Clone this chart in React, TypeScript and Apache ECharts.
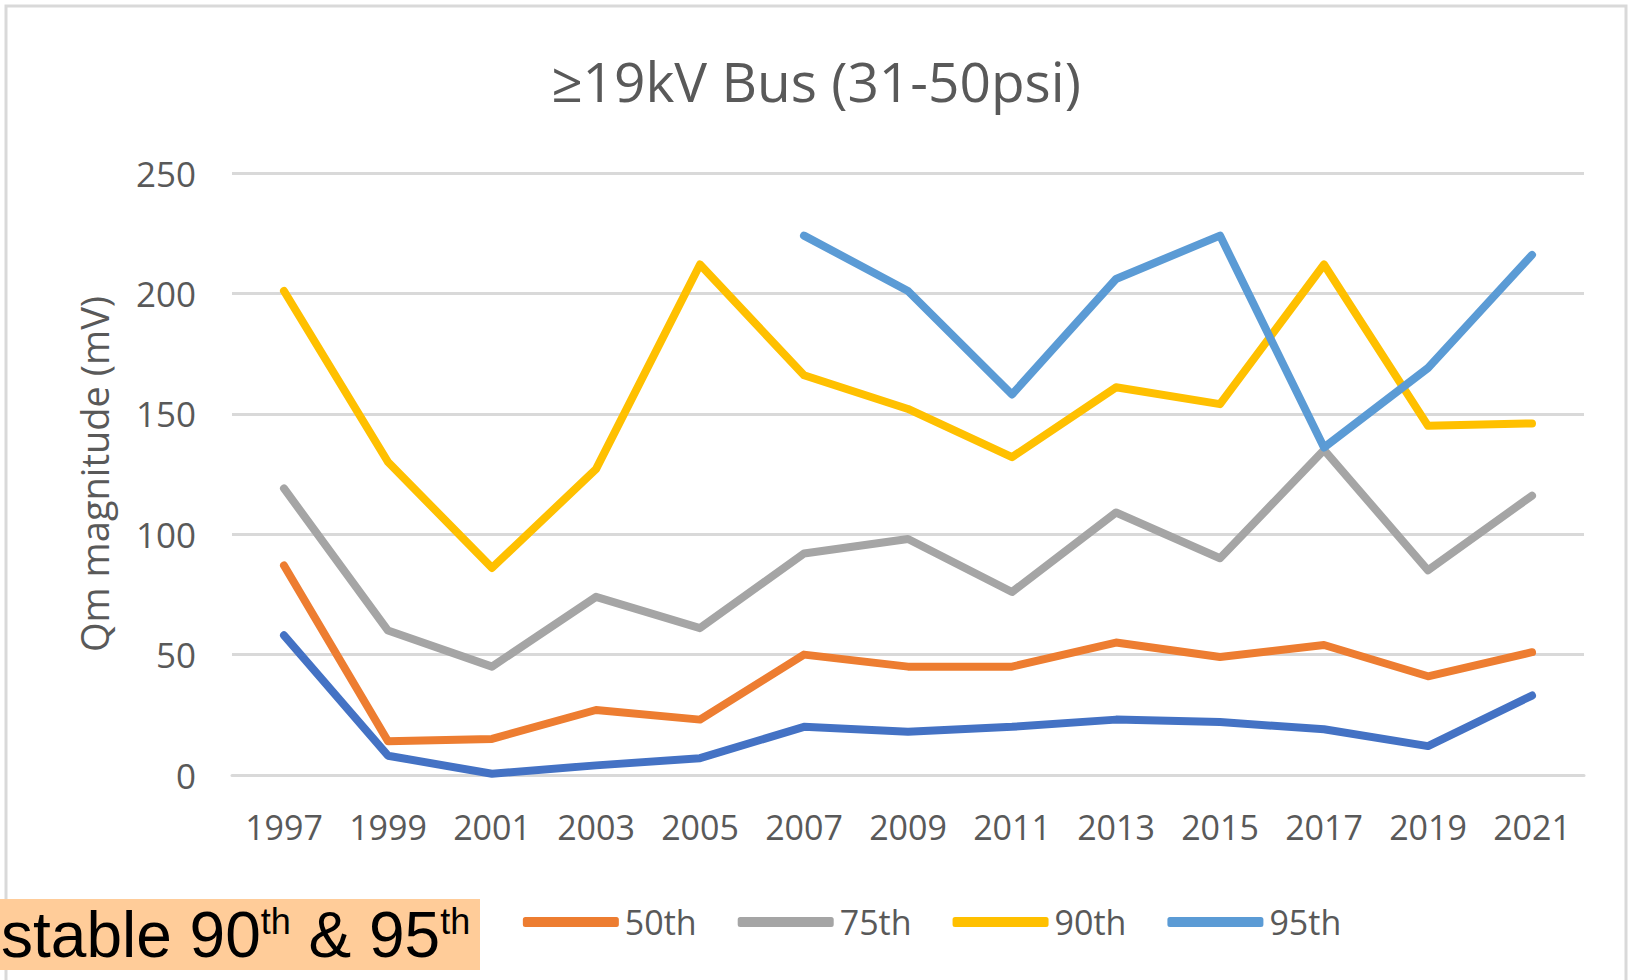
import React, { useEffect, useRef } from "react";
import * as echarts from "echarts";

const years = ["1997", "1999", "2001", "2003", "2005", "2007", "2009", "2011", "2013", "2015", "2017", "2019", "2021"];
const p25 = [58, 8, 0.5, 4, 7, 20, 18, 20, 23, 22, 19, 12, 33];
const p50 = [87, 14, 15, 27, 23, 50, 45, 45, 55, 49, 54, 41, 51];
const p75 = [119, 60, 45, 74, 61, 92, 98, 76, 109, 90, 135, 85, 116];
const p90 = [201, 130, 86, 127, 212, 166, 152, 132, 161, 154, 212, 145, 146];
const p95 = [null, null, null, null, null, 224, 201, 158, 206, 224, 136, 169, 216];
const yTicks = { min: 0, max: 250, interval: 50 };

const seriesDefs = [
  { name: "25th", data: p25, color: "#4472C4" },
  { name: "50th", data: p50, color: "#ED7D31" },
  { name: "75th", data: p75, color: "#A5A5A5" },
  { name: "90th", data: p90, color: "#FFC000" },
  { name: "95th", data: p95, color: "#5B9BD5" },
];

export default function App() {
  const ref = useRef<HTMLDivElement>(null);
  useEffect(() => {
    const chart = echarts.init(ref.current!, null, { renderer: "svg" });
    const font = "'Open Sans', 'Noto Sans', sans-serif";
    const arial = "'Liberation Sans', Arial, sans-serif";
    chart.setOption({
      animation: false,
      backgroundColor: "#ffffff",
      title: {
        text: "≥19kV Bus (31-50psi)",
        left: "center",
        top: 48,
        textStyle: { fontFamily: font, fontSize: 55, fontWeight: "normal", color: "#595959" },
      },
      grid: { left: 232, right: 48, top: 173, bottom: 205 },
      legend: {
        left: 303,
        top: 900,
        itemWidth: 96,
        itemHeight: 10,
        itemGap: 41,
        icon: "roundRect",
        textStyle: { fontFamily: font, fontSize: 34, color: "#595959", padding: [0, 0, 0, 1] },
        data: seriesDefs.map((s) => s.name),
      },
      xAxis: {
        type: "category",
        data: years,
        boundaryGap: true,
        axisLine: { lineStyle: { color: "#D9D9D9", width: 3 } },
        axisTick: { show: false },
        axisLabel: { interval: 0, fontFamily: font, fontSize: 34, color: "#595959", margin: 35 },
      },
      yAxis: {
        type: "value",
        min: yTicks.min,
        max: yTicks.max,
        interval: yTicks.interval,
        name: "Qm magnitude (mV)",
        nameLocation: "middle",
        nameGap: 119,
        nameTextStyle: { fontFamily: font, fontSize: 38, color: "#595959" },
        axisLine: { show: false },
        axisTick: { show: false },
        splitLine: { lineStyle: { color: "#D9D9D9", width: 3 } },
        axisLabel: { fontFamily: font, fontSize: 35, color: "#595959", margin: 36 },
      },
      series: seriesDefs.map((s) => ({
        name: s.name,
        type: "line",
        data: s.data,
        showSymbol: false,
        symbol: "none",
        connectNulls: false,
        itemStyle: { color: s.color },
        lineStyle: { color: s.color, width: 8, cap: "round", join: "round" },
      })),
      graphic: [
        {
          type: "rect",
          silent: true,
          shape: { x: 6, y: 6, width: 1620, height: 990 },
          style: { fill: "none", stroke: "#D9D9D9", lineWidth: 3 },
          z: 100,
        },
        {
          type: "rect",
          shape: { x: 0, y: 899, width: 480, height: 71 },
          style: { fill: "#FFCC99" },
          z: 200,
        },
        {
          type: "text",
          x: 1,
          y: 935,
          z: 201,
          style: {
            text: "{n|stable 90}{s|th}{n| & 95}{s|th}",
            verticalAlign: "middle",
            rich: {
              n: { fontFamily: arial, fontSize: 64, fill: "#000000", verticalAlign: "bottom" },
              s: { fontFamily: arial, fontSize: 36, fill: "#000000", verticalAlign: "top" },
            },
          },
        },
      ],
    });
    return () => chart.dispose();
  }, []);
  return <div ref={ref} style={{ position: "fixed", left: 0, top: 0, width: 1632, height: 980 }} />;
}
